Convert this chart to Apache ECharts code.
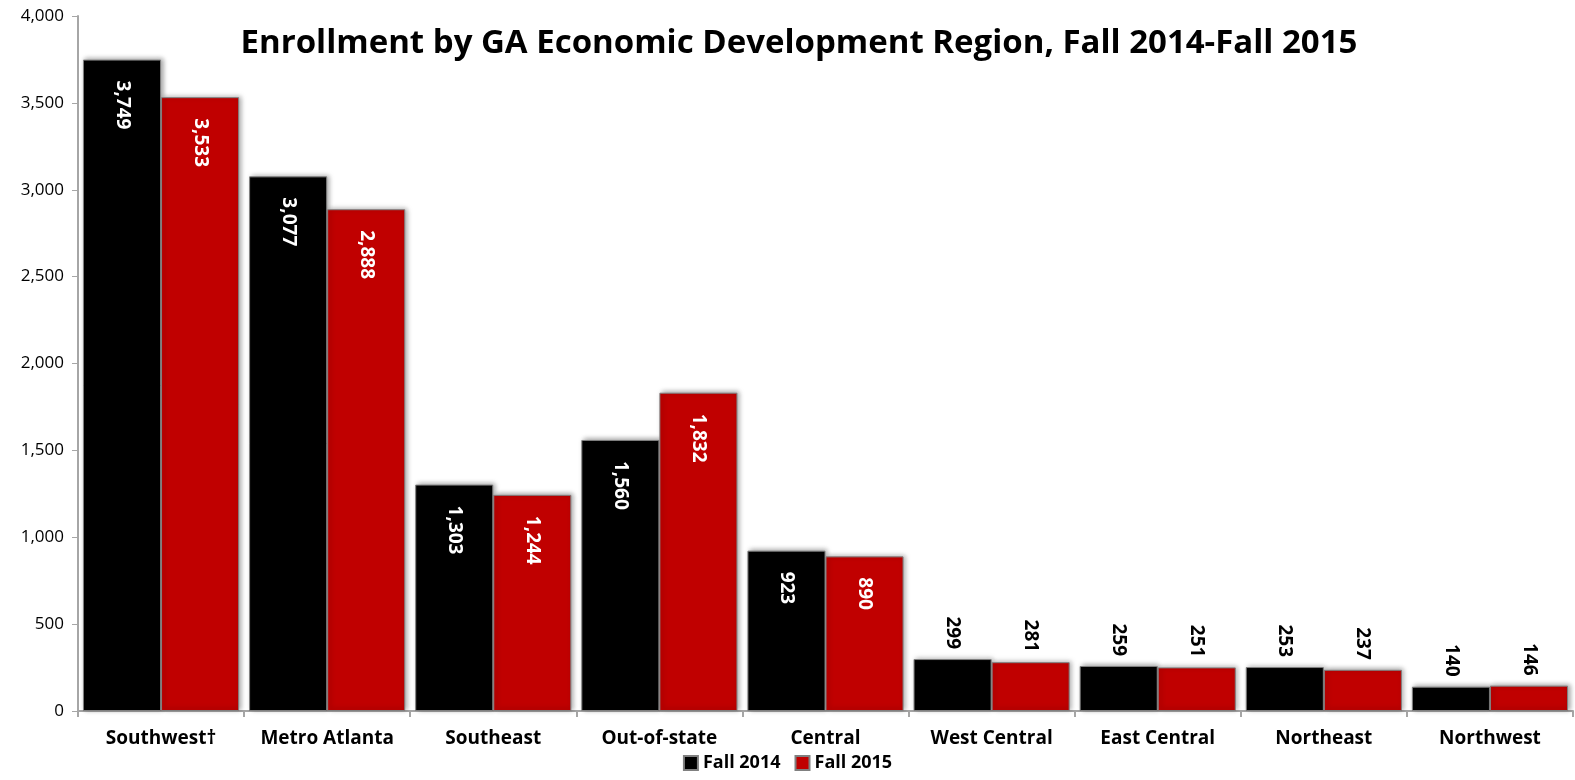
<!DOCTYPE html>
<html>
<head>
<meta charset="utf-8">
<script src="https://cdn.jsdelivr.net/npm/echarts@6/dist/echarts.min.js"></script>
<style>
  html, body { margin: 0; padding: 0; background: #fff; }
  #chart { width: 1575px; height: 780px; }
</style>
</head>
<body>
<div id="chart"></div>
<script>
const regions = ['Southwest†', 'Metro Atlanta', 'Southeast', 'Out-of-state', 'Central', 'West Central', 'East Central', 'Northeast', 'Northwest'];
const fall2014 = [3749, 3077, 1303, 1560, 923, 299, 259, 253, 140];
const fall2015 = [3533, 2888, 1244, 1832, 890, 281, 251, 237, 146];
const yTicks = [0, 500, 1000, 1500, 2000, 2500, 3000, 3500, 4000];

const fontFamily = '"Open Sans", "Noto Sans", sans-serif';

// big bars get the number inside (white), small ones above (black)
function withLabels(values) {
  return values.map(v => {
    const inside = v > 600;
    return {
      value: v,
      label: inside ? {
        position: 'insideTop', rotate: -90, align: 'left', verticalAlign: 'middle',
        distance: 21, color: '#fff'
      } : {
        position: 'top', rotate: -90, align: 'right', verticalAlign: 'middle',
        distance: 10, color: '#000'
      }
    };
  });
}

function fmt(n) {
  return n.toLocaleString('en-US');
}

const chart = echarts.init(document.getElementById('chart'));
const barStyle = color => ({
  color: color,
  borderColor: '#808080',
  borderWidth: 1,
  shadowColor: 'rgba(0,0,0,0.35)',
  shadowBlur: 5,
  shadowOffsetX: 2,
  shadowOffsetY: -1
});
const labelBase = {
  show: true,
  fontFamily: fontFamily,
  fontWeight: 'bold',
  fontSize: 19,
  formatter: p => fmt(p.value)
};

chart.setOption({
  animation: false,
  title: {
    text: 'Enrollment by GA Economic Development Region, Fall 2014-Fall 2015',
    left: 794,
    textAlign: 'center',
    top: 22,
    textStyle: { fontFamily: fontFamily, fontWeight: 'bold', fontSize: 33, color: '#000' }
  },
  legend: {
    data: ['Fall 2014', 'Fall 2015'],
    bottom: 3,
    left: 'center',
    icon: 'rect',
    itemWidth: 14,
    itemHeight: 14,
    itemGap: 14,
    textStyle: { fontFamily: fontFamily, fontWeight: 'bold', fontSize: 18, color: '#000' }
  },
  grid: { left: 78, right: 2, top: 16, bottom: 69 },
  xAxis: {
    type: 'category',
    data: regions,
    axisLine: { lineStyle: { color: '#a6a6a6', width: 2 } },
    axisTick: { show: true, interval: 0, length: 6, lineStyle: { color: '#a6a6a6', width: 2 } },
    axisLabel: { interval: 0, fontFamily: fontFamily, fontWeight: 'bold', fontSize: 19, color: '#000', margin: 18 }
  },
  yAxis: {
    type: 'value',
    min: yTicks[0],
    max: yTicks[yTicks.length - 1],
    interval: 500,
    splitLine: { show: false },
    axisLine: { show: true, lineStyle: { color: '#a6a6a6', width: 2 } },
    axisTick: { show: true, length: 6, lineStyle: { color: '#a6a6a6', width: 1 } },
    axisLabel: { fontFamily: fontFamily, fontSize: 17, color: '#000', margin: 14, formatter: v => fmt(v) }
  },
  series: [
    {
      name: 'Fall 2014',
      type: 'bar',
      data: withLabels(fall2014),
      barGap: '0%',
      barCategoryGap: '6%',
      itemStyle: barStyle('#000000'),
      label: labelBase
    },
    {
      name: 'Fall 2015',
      type: 'bar',
      data: withLabels(fall2015),
      barGap: '0%',
      barCategoryGap: '6%',
      itemStyle: barStyle('#c00000'),
      label: labelBase
    }
  ]
});
</script>
</body>
</html>
